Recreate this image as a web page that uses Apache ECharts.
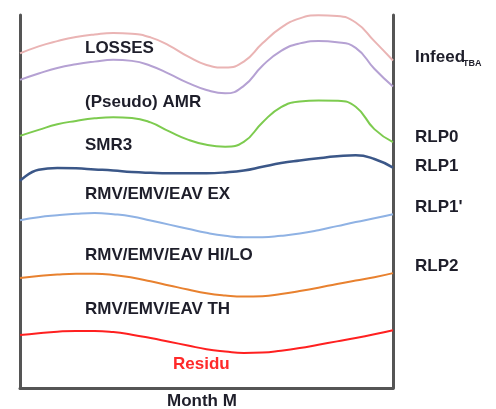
<!DOCTYPE html>
<html>
<head>
<meta charset="utf-8">
<script src="https://cdn.jsdelivr.net/npm/echarts@6/dist/echarts.min.js"></script>
<style>html,body{margin:0;padding:0;background:#fff}#c{width:496px;height:409px}</style>
</head>
<body>
<div id="c"></div>
<script>
// Position in month (0..100 %)
var xs = [0, 5, 10, 15, 20, 25, 30, 35, 40, 45, 50, 55, 60, 65, 70, 75, 80, 85, 90, 95, 100];
// Stacked load levels (arbitrary units, 0..100)
var losses = [89.7, 91.6, 93.0, 94.1, 94.8, 95.2, 95.0, 94.0, 91.8, 88.9, 86.6, 85.9, 87.5, 92.4, 96.6, 99.1, 99.9, 99.7, 98.0, 93.0, 87.8];
var amr    = [82.6, 84.3, 85.8, 86.8, 87.5, 88.0, 87.7, 86.4, 84.2, 81.8, 79.9, 79.0, 81.0, 86.4, 90.4, 92.4, 93.0, 92.7, 91.2, 85.6, 80.8];
var smr3   = [67.6, 69.2, 70.7, 71.6, 72.3, 72.6, 72.4, 71.2, 68.8, 66.6, 65.2, 64.7, 66.0, 71.2, 75.3, 76.8, 77.1, 77.0, 75.4, 69.4, 65.9];
var rlp1   = [55.5, 58.5, 59.0, 58.9, 58.6, 58.3, 57.9, 57.7, 57.6, 57.6, 57.6, 57.8, 58.3, 59.3, 60.3, 61.0, 61.6, 62.1, 62.4, 61.4, 59.1];
var rlp1b  = [45.0, 45.8, 46.3, 46.7, 46.9, 46.6, 46.0, 44.9, 43.8, 42.7, 41.6, 40.8, 40.4, 40.4, 40.8, 41.4, 42.3, 43.4, 44.5, 45.5, 46.6];
var rlp2   = [29.5, 30.0, 30.4, 30.6, 30.6, 30.3, 29.6, 28.6, 27.5, 26.4, 25.4, 24.8, 24.5, 24.6, 25.2, 26.0, 26.9, 27.9, 28.8, 29.7, 30.8];
var residu = [14.2, 14.7, 15.1, 15.3, 15.3, 15.0, 14.3, 13.4, 12.4, 11.4, 10.4, 9.8, 9.4, 9.5, 10.0, 10.7, 11.6, 12.5, 13.4, 14.4, 15.5];

var areaLabels = ['LOSSES', '(Pseudo) AMR', 'SMR3', 'RMV/EMV/EAV EX', 'RMV/EMV/EAV HI/LO', 'RMV/EMV/EAV TH'];
var rightLabels = ['RLP0', 'RLP1', "RLP1'", 'RLP2'];

function pts(arr) { return xs.map(function (x, i) { return [x, arr[i]]; }); }

var chart = echarts.init(document.getElementById('c'), null, {renderer: 'canvas'});
var FONT = '"Liberation Sans", Arial, sans-serif';
var TXT = '#1e1e2a';

function line(data, color, w) {
  return {type: 'line', data: pts(data), smooth: 0.5, symbol: 'none',
    lineStyle: {color: color, width: w || 2}, silent: true, z: 3};
}

function txt(x, y, s, opts) {
  opts = opts || {};
  return {type: 'text', left: x, top: y, silent: true, z: 10,
    style: {text: s, fill: opts.color || TXT, font: 'bold ' + (opts.size || 17) + 'px ' + FONT}};
}

var graphics = [
  txt(85, 40, areaLabels[0]),
  txt(85, 94, areaLabels[1]),
  txt(85, 137, areaLabels[2]),
  txt(85, 186, areaLabels[3]),
  txt(85, 247, areaLabels[4]),
  txt(85, 301, areaLabels[5]),
  txt(173, 356, 'Residu', {color: '#ff2a2a'}),
  txt(167, 393, 'Month M'),
  txt(415, 49, 'Infeed'),
  txt(463, 59, 'TBA', {size: 9}),
  txt(415, 129, rightLabels[0]),
  txt(415, 158, rightLabels[1]),
  txt(415, 199, rightLabels[2]),
  txt(415, 258, rightLabels[3])
];

chart.setOption({
  animation: false,
  grid: {left: 20, right: 103, top: 15, bottom: 21},
  xAxis: {type: 'value', min: 0, max: 100, axisLine: {show: true, lineStyle: {color: '#555', width: 3}},
    axisTick: {show: false}, axisLabel: {show: false}, splitLine: {show: false}},
  yAxis: [
    {type: 'value', min: 0, max: 100, position: 'left', axisLine: {show: true, lineStyle: {color: '#555', width: 3}},
      axisTick: {show: false}, axisLabel: {show: false}, splitLine: {show: false}},
    {type: 'value', min: 0, max: 100, position: 'right', axisLine: {show: true, lineStyle: {color: '#555', width: 3}},
      axisTick: {show: false}, axisLabel: {show: false}, splitLine: {show: false}}
  ],
  series: [
    line(losses, '#eab4b4'),
    line(amr, '#b5a1d3'),
    line(smr3, '#7dcb4f'),
    line(rlp1, '#3b5788', 2.5),
    line(rlp1b, '#8fb2e4'),
    line(rlp2, '#e8812f'),
    line(residu, '#ff2020')
  ],
  graphic: graphics
});
</script>
</body>
</html>
